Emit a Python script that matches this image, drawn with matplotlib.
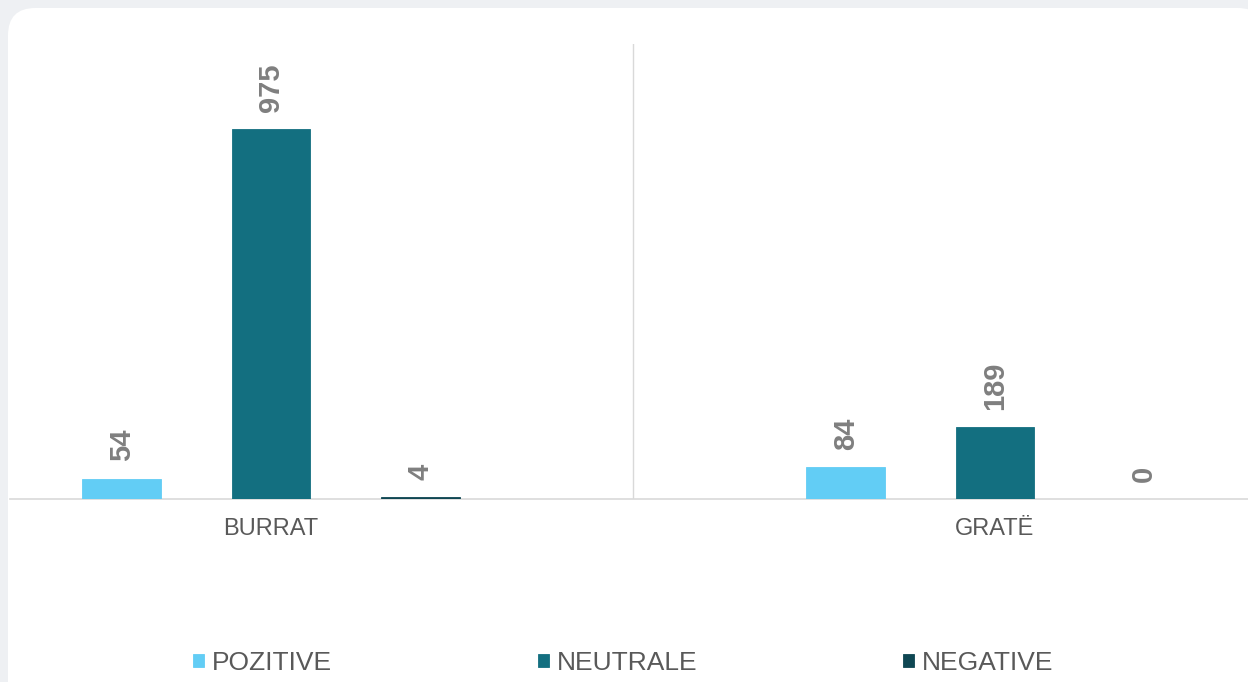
import matplotlib
matplotlib.use("Agg")
import matplotlib.pyplot as plt
from matplotlib.patches import FancyBboxPatch
import numpy as np

categories = ["BURRAT", "GRATË"]
series_names = ["POZITIVE", "NEUTRALE", "NEGATIVE"]
pozitive = [54, 84]
neutrale = [975, 189]
negative = [4, 0]
series_values = [pozitive, neutrale, negative]
colors = ["#62CDF5", "#136F80", "#0F4753"]

plt.rcParams['font.family'] = ['Liberation Sans', 'DejaVu Sans']

W, H = 1248, 682
fig = plt.figure(figsize=(W / 100, H / 100), dpi=100)
fig.patch.set_facecolor("#EEF0F3")

# white card
card = FancyBboxPatch((8 / W, -40 / H), (1265 - 8) / W, (674 + 40) / H,
                      boxstyle="round,pad=0,rounding_size=0.022",
                      transform=fig.transFigure, facecolor="white",
                      edgecolor="none", mutation_aspect=W / H, zorder=-5)
fig.patches.append(card)

ax = fig.add_axes([10 / W, (H - 499) / H, (1248 - 10) / W, (499 - 44) / H])
ax.set_facecolor("none")
ax.set_zorder(2)

x = np.arange(len(categories))
offset = 0.206
width = 0.109
for i, (name, vals, c) in enumerate(zip(series_names, series_values, colors)):
    pos = x + (i - 1) * offset
    bars = ax.bar(pos, vals, width=width, color=c, label=name,
                  edgecolor=c, linewidth=0.6, zorder=3)
    for xp, v in zip(pos, vals):
        ax.text(xp, v + 46, str(v), rotation=90, ha="center", va="bottom",
                fontsize=21, fontweight="bold", color="#7F7F7F")

ax.set_xlim((10 - 271) / 724, (1248 - 271) / 724)
ax.set_ylim(0, 1199)
ax.axvline(0.5, color="#D9D9D9", linewidth=1.0, zorder=1)

for s in ["top", "right", "left"]:
    ax.spines[s].set_visible(False)
ax.spines["bottom"].set_color("#D9D9D9")
ax.spines["bottom"].set_linewidth(1.2)
ax.set_yticks([])
ax.set_xticks(x)
ax.set_xticklabels(categories, fontsize=17, color="#595959")
ax.tick_params(axis="x", length=0, pad=14)

leg = fig.legend(loc="center", bbox_to_anchor=(623 / W, (H - 663) / H), ncol=3,
                 frameon=False, fontsize=19, handlelength=0.42, handleheight=0.42,
                 handletextpad=0.3, columnspacing=7.8, labelcolor="#595959",
                 borderpad=0, borderaxespad=0)

fig.savefig("out.png", dpi=100, facecolor=fig.get_facecolor())
